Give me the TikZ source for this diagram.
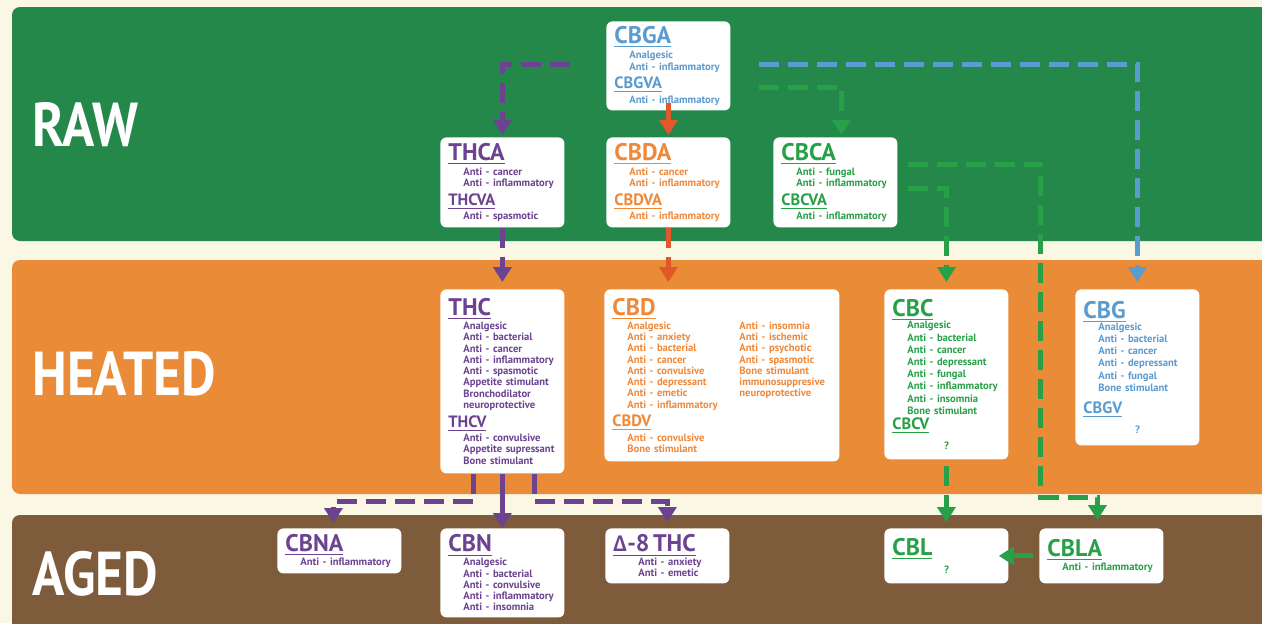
\documentclass[tikz,border=0pt]{standalone}
\usepackage{fontspec}
\setmainfont{PT Sans}
\newfontfamily\bandfont{PT Sans}[FakeStretch=0.86]
\newfontfamily\grkfont{Carlito}
\usetikzlibrary{arrows.meta}

\definecolor{cream}{HTML}{FAF8E4}
\definecolor{rawgreen}{HTML}{23884A}
\definecolor{heatorange}{HTML}{E98B37}
\definecolor{agedbrown}{HTML}{7D5B3B}
\definecolor{thcpurple}{HTML}{6B4391}
\definecolor{cbdorange}{HTML}{F0883A}
\definecolor{cbdred}{HTML}{E2582A}
\definecolor{cbcgreen}{HTML}{27A048}
\definecolor{cbgblue}{HTML}{5A9BD0}

\newcommand{\ttl}[1]{{\fontsize{12}{12}\selectfont\underline{#1}}}
\newcommand{\subttl}[1]{{\fontsize{8.2}{8.2}\selectfont\underline{#1}}}
\newcommand{\indt}{\hspace*{7.5pt}}

\tikzset{
  box/.style={fill=white, rounded corners=3pt, anchor=north west, align=left,
    inner xsep=4pt, inner ysep=2pt, minimum width=62pt, text width=54pt,
    font=\fontsize{5.3}{5.65}\selectfont\bfseries},
  tag/.style={text=white, anchor=west, inner sep=0pt,
    font=\bandfont\bfseries\fontsize{31}{31}\selectfont},
  link/.style={line width=2.5pt, -{Triangle[width=9pt,length=7.5pt]}},
  dsh/.style={dash pattern=on 10pt off 4.5pt},
}

\begin{document}
\begin{tikzpicture}[x=0.5pt,y=-0.5pt]
  \fill[cream] (0,0) rectangle (1262,623);
  \useasboundingbox (0,0) rectangle (1262,623);
  \fill[rawgreen, rounded corners=4pt] (12,7) rectangle (1280,241);
  \fill[heatorange, rounded corners=4pt] (12,260) rectangle (1280,494);
  \fill[agedbrown, rounded corners=4pt] (12,515) rectangle (1280,640);

  \node[tag] (raw) at (32,125) {RAW};
  \node[tag] (heated) at (32,374) {HEATED};
  \node[tag] (aged) at (32,574) {AGED};

  \node[box, text=cbgblue, minimum height=44.5pt] (cbga) at (606,21)
    {\ttl{CBGA}\\[0.6pt] \indt Analgesic\\ \indt Anti - inflammatory\\[1.3pt]
     \subttl{CBGVA}\\[0.4pt] \indt Anti - inflammatory};
  \node[box, text=thcpurple, minimum height=45pt] (thca) at (440,137)
    {\ttl{THCA}\\[0.6pt] \indt Anti - cancer\\ \indt Anti - inflammatory\\[1.3pt]
     \subttl{THCVA}\\[0.4pt] \indt Anti - spasmotic};
  \node[box, text=cbdorange, minimum height=45pt] (cbda) at (606,137)
    {\ttl{CBDA}\\[0.6pt] \indt Anti - cancer\\ \indt Anti - inflammatory\\[1.3pt]
     \subttl{CBDVA}\\[0.4pt] \indt Anti - inflammatory};
  \node[box, text=cbcgreen, minimum height=45pt] (cbca) at (773,137)
    {\ttl{CBCA}\\[0.6pt] \indt Anti - fungal\\ \indt Anti - inflammatory\\[1.3pt]
     \subttl{CBCVA}\\[0.4pt] \indt Anti - inflammatory};

  \node[box, text=thcpurple, minimum height=92pt] (thc) at (440,289)
    {\ttl{THC}\\ \indt Analgesic\\ \indt Anti - bacterial\\ \indt Anti - cancer\\
     \indt Anti - inflammatory\\ \indt Anti - spasmotic\\ \indt Appetite stimulant\\
     \indt Bronchodilator\\ \indt neuroprotective\\[1.3pt]
     \subttl{THCV}\\[0.4pt] \indt Anti - convulsive\\ \indt Appetite supressant\\
     \indt Bone stimulant};
  \node[box, text=cbdorange, minimum height=86pt, minimum width=117.5pt,
    text width=109.5pt] (cbd) at (604,289)
    {\ttl{CBD}\\
     \indt\makebox[56pt][l]{Analgesic}Anti - insomnia\\
     \indt\makebox[56pt][l]{Anti - anxiety}Anti - ischemic\\
     \indt\makebox[56pt][l]{Anti - bacterial}Anti - psychotic\\
     \indt\makebox[56pt][l]{Anti - cancer}Anti - spasmotic\\
     \indt\makebox[56pt][l]{Anti - convulsive}Bone stimulant\\
     \indt\makebox[56pt][l]{Anti - depressant}immunosuppresive\\
     \indt\makebox[56pt][l]{Anti - emetic}neuroprotective\\
     \indt Anti - inflammatory\\[1.3pt]
     \subttl{CBDV}\\[0.4pt] \indt Anti - convulsive\\ \indt Bone stimulant};
  \node[box, text=cbcgreen, minimum height=85pt,
    font=\fontsize{5.3}{6.1}\selectfont\bfseries] (cbc) at (884,289)
    {\ttl{CBC}\\ \indt Analgesic\\ \indt Anti - bacterial\\ \indt Anti - cancer\\
     \indt Anti - depressant\\ \indt Anti - fungal\\ \indt Anti - inflammatory\\
     \indt Anti - insomnia\\ \indt Bone stimulant\\[1.3pt]
     \subttl{CBCV}\\[4pt] \makebox[\linewidth]{?}};
  \node[box, text=cbgblue, minimum height=78pt,
    font=\fontsize{5.3}{6.1}\selectfont\bfseries] (cbg) at (1075,289)
    {\ttl{CBG}\\ \indt Analgesic\\ \indt Anti - bacterial\\ \indt Anti - cancer\\
     \indt Anti - depressant\\ \indt Anti - fungal\\ \indt Bone stimulant\\[5pt]
     \subttl{CBGV}\\[4pt] \makebox[\linewidth]{?}};

  \node[box, text=thcpurple, minimum height=22.5pt] (cbna) at (277,528)
    {\ttl{CBNA}\\ \indt Anti - inflammatory};
  \node[box, text=thcpurple, minimum height=44.5pt] (cbn) at (440,528)
    {\ttl{CBN}\\ \indt Analgesic\\ \indt Anti - bacterial\\ \indt Anti - convulsive\\
     \indt Anti - inflammatory\\ \indt Anti - insomnia};
  \node[box, text=thcpurple, minimum height=27.5pt] (dthc) at (605,528)
    {\ttl{{\grkfont Δ}-8 THC}\\ \indt\hspace*{5pt}Anti - anxiety\\
     \indt\hspace*{5pt}Anti - emetic};
  \node[box, text=cbcgreen, minimum height=27.5pt] (cbl) at (884,528)
    {\ttl{CBL}\\[2pt] \makebox[\linewidth]{?}};
  \node[box, text=cbcgreen, minimum height=27.5pt] (cbla) at (1039,528)
    {\ttl{CBLA}\\ \indt Anti - inflammatory};

  \coordinate (pa) at ([xshift=-18pt,yshift=-21.5pt]cbga.north west);
  \coordinate (ba) at ([xshift=14pt,yshift=-21.5pt]cbga.north east);
  \coordinate (ga) at ([xshift=14pt,yshift=-33pt]cbga.north east);
  \coordinate (ca1) at ([xshift=5pt,yshift=-13.5pt]cbca.north east);
  \coordinate (ca2) at ([xshift=5pt,yshift=-25.5pt]cbca.north east);

  \draw[link, dsh, thcpurple, shorten >=1pt] (pa) -| (thca.north);
  \draw[link, cbdred, shorten >=1pt, shorten <=-4pt] (cbga.south) -- (cbda.north);
  \draw[link, dsh, cbcgreen, shorten >=1pt] (ga) -| ([xshift=3pt]cbca.north);
  \draw[link, dsh, cbgblue, shorten >=3.5pt] (ba) -| (cbg.north);

  \draw[link, dsh, thcpurple, shorten >=3.5pt] (thca.south) -- (thc.north);
  \draw[link, dsh, cbdred, shorten >=3.5pt] (cbda.south) -- (cbda.south |- cbd.north);
  \draw[link, dsh, cbcgreen, shorten >=3.5pt] (ca2) -| (cbc.north);
  \draw[link, dsh, cbcgreen, shorten >=4pt] (ca1) -| ++(133,333) -| ([xshift=-2pt]cbla.north);

  \draw[link, dsh, thcpurple, shorten >=2.5pt] ([xshift=-14.25pt]thc.south) -- ++(0,28)
    -| ([xshift=-3pt]cbna.north);
  \draw[link, thcpurple] (thc.south) -- (thc.south |- cbn.north);
  \draw[link, dsh, thcpurple, shorten >=3pt] ([xshift=16pt]thc.south) -- ++(0,28)
    -| (dthc.north);
  \draw[link, dsh, cbcgreen, shorten >=3pt, shorten <=3pt] (cbc.south) -- (cbl.north);
  \draw[link, cbcgreen] ([xshift=-3pt]cbla.west) -- ([xshift=-5pt]cbl.east);
\end{tikzpicture}
\end{document}
